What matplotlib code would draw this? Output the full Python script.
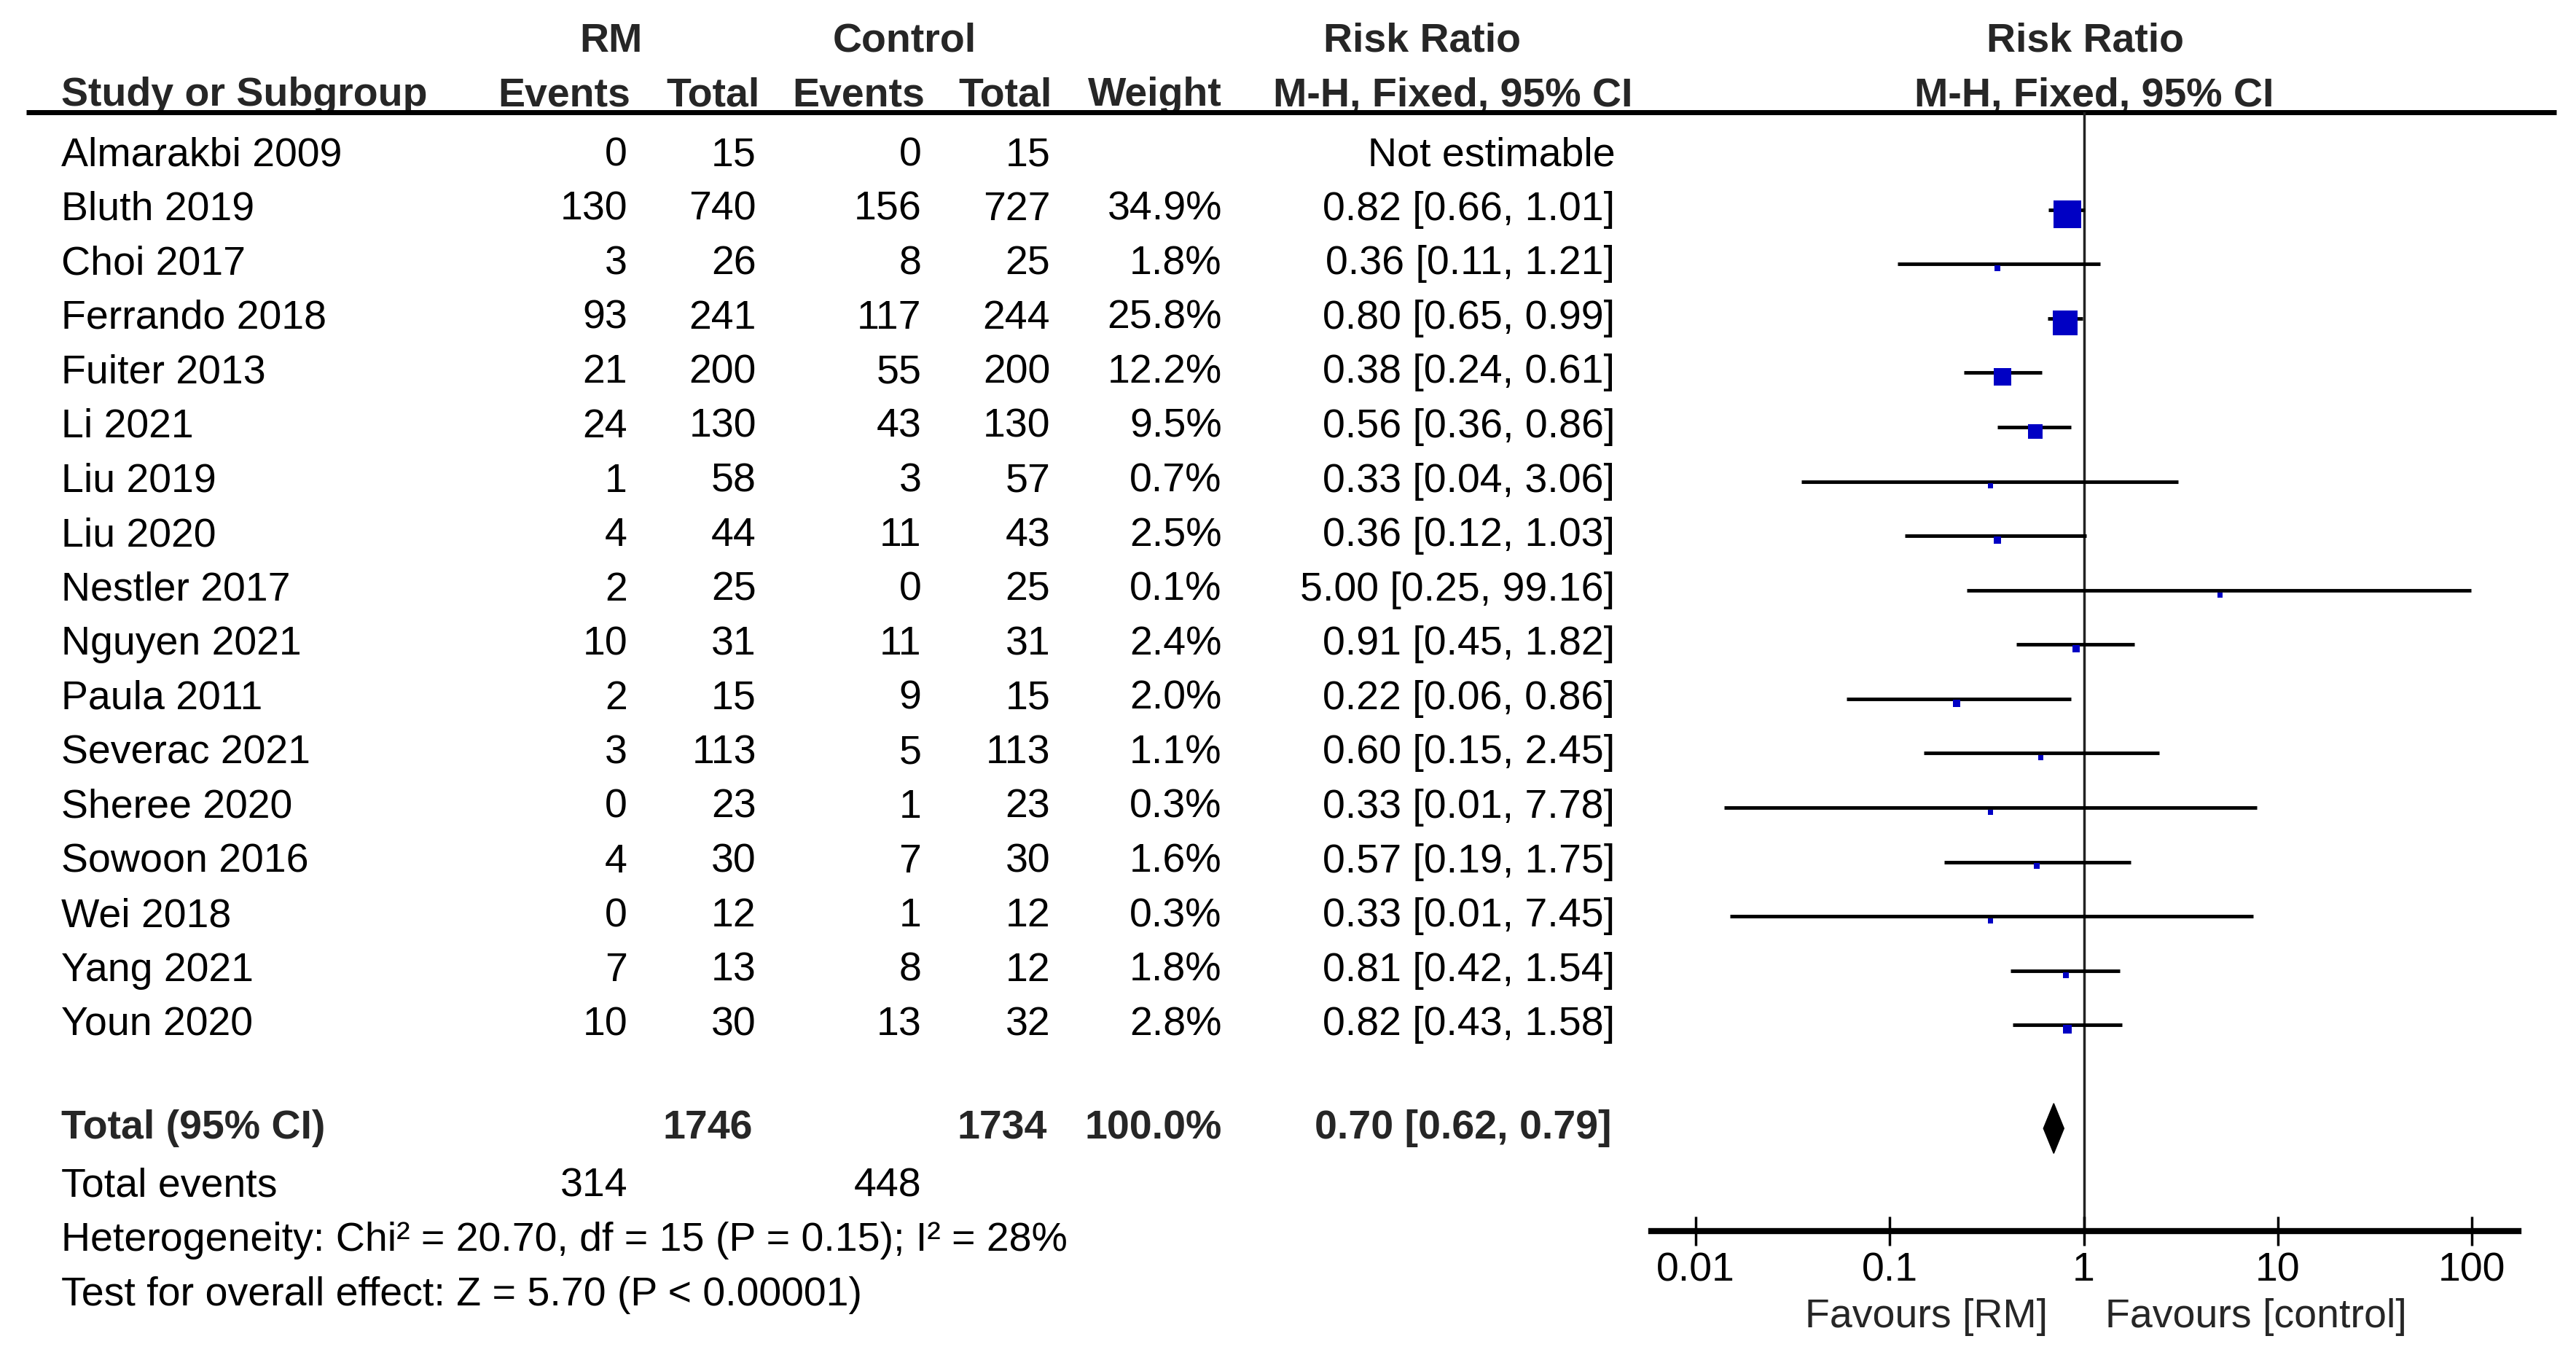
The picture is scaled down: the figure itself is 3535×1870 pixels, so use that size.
import matplotlib
matplotlib.use("Agg")
import matplotlib.pyplot as plt
from matplotlib.patches import Polygon
import numpy as np

plt.rcParams['font.family'] = ['Liberation Sans', 'DejaVu Sans']

# ---------------- data ----------------
studies = ["Almarakbi 2009", "Bluth 2019", "Choi 2017", "Ferrando 2018", "Fuiter 2013",
           "Li 2021", "Liu 2019", "Liu 2020", "Nestler 2017", "Nguyen 2021", "Paula 2011",
           "Severac 2021", "Sheree 2020", "Sowoon 2016", "Wei 2018", "Yang 2021", "Youn 2020"]
rm_events = [0, 130, 3, 93, 21, 24, 1, 4, 2, 10, 2, 3, 0, 4, 0, 7, 10]
rm_total = [15, 740, 26, 241, 200, 130, 58, 44, 25, 31, 15, 113, 23, 30, 12, 13, 30]
ctl_events = [0, 156, 8, 117, 55, 43, 3, 11, 0, 11, 9, 5, 1, 7, 1, 8, 13]
ctl_total = [15, 727, 25, 244, 200, 130, 57, 43, 25, 31, 15, 113, 23, 30, 12, 12, 32]
weights = [None, 34.9, 1.8, 25.8, 12.2, 9.5, 0.7, 2.5, 0.1, 2.4, 2.0, 1.1, 0.3, 1.6, 0.3, 1.8, 2.8]
ci_text = ["Not estimable", "0.82 [0.66, 1.01]", "0.36 [0.11, 1.21]", "0.80 [0.65, 0.99]",
           "0.38 [0.24, 0.61]", "0.56 [0.36, 0.86]", "0.33 [0.04, 3.06]", "0.36 [0.12, 1.03]",
           "5.00 [0.25, 99.16]", "0.91 [0.45, 1.82]", "0.22 [0.06, 0.86]", "0.60 [0.15, 2.45]",
           "0.33 [0.01, 7.78]", "0.57 [0.19, 1.75]", "0.33 [0.01, 7.45]", "0.81 [0.42, 1.54]",
           "0.82 [0.43, 1.58]"]
rr = [None, 0.82, 0.36, 0.80, 0.38, 0.56, 0.33, 0.36, 5.00, 0.91, 0.22, 0.60, 0.33, 0.57, 0.33, 0.81, 0.82]
rr_lo = [None, 0.66, 0.11, 0.65, 0.24, 0.36, 0.035, 0.12, 0.25, 0.45, 0.06, 0.15, 0.014, 0.19, 0.015, 0.42, 0.43]
rr_hi = [None, 1.01, 1.21, 0.99, 0.61, 0.86, 3.06, 1.03, 99.16, 1.82, 0.86, 2.45, 7.78, 1.75, 7.45, 1.54, 1.58]

total_rm = 1746
total_ctl = 1734
total_events_rm = 314
total_events_ctl = 448
total_rr, total_lo, total_hi = 0.70, 0.62, 0.79
total_text = "0.70 [0.62, 0.79]"
heterogeneity = "Heterogeneity: Chi\u00b2 = 20.70, df = 15 (P = 0.15); I\u00b2 = 28%"
overall = "Test for overall effect: Z = 5.70 (P < 0.00001)"
tick_vals = [0.01, 0.1, 1, 10, 100]
tick_labels = ["0.01", "0.1", "1", "10", "100"]

# ---------------- layout ----------------
W, H = 1560.0, 825.0
fig = plt.figure(figsize=(35.35, 18.7), dpi=100)
axt = fig.add_axes([0, 0, 1, 1])
axt.set_xlim(0, W)
axt.set_ylim(H, 0)
axt.axis('off')

FS = 40
HC = '#262626'
Y0, DY = 94.0, 32.9


def ry(r):
    return Y0 + DY * r


# headers
hdr = dict(fontsize=FS, fontweight='bold', color=HC, va='center')
axt.text(370, 25, "RM", ha='center', **hdr)
axt.text(548, 25, "Control", ha='center', **hdr)
axt.text(861, 25, "Risk Ratio", ha='center', **hdr)
axt.text(1263, 25, "Risk Ratio", ha='center', **hdr)
axt.text(37, 58, "Study or Subgroup", ha='left', **hdr)
axt.text(382, 58, "Events", ha='right', **hdr)
axt.text(460, 58, "Total", ha='right', **hdr)
axt.text(560, 58, "Events", ha='right', **hdr)
axt.text(637, 58, "Total", ha='right', **hdr)
axt.text(740, 58, "Weight", ha='right', **hdr)
axt.text(880, 58, "M-H, Fixed, 95% CI", ha='center', **hdr)
axt.text(1268, 58, "M-H, Fixed, 95% CI", ha='center', **hdr)
axt.plot([16, 1548], [68, 68], color='black', lw=5, solid_capstyle='butt', zorder=5)

body = dict(fontsize=FS, color='black', va='center')
for i, s in enumerate(studies):
    y = ry(i)
    axt.text(37, y, s, ha='left', **body)
    axt.text(380, y, str(rm_events[i]), ha='right', **body)
    axt.text(458, y, str(rm_total[i]), ha='right', **body)
    axt.text(558, y, str(ctl_events[i]), ha='right', **body)
    axt.text(636, y, str(ctl_total[i]), ha='right', **body)
    if weights[i] is not None:
        axt.text(740, y, f"{weights[i]:.1f}%", ha='right', **body)
    axt.text(978, y, ci_text[i], ha='right', **body)

bold = dict(fontsize=FS, color=HC, fontweight='bold', va='center')
yt = 683
axt.text(37, yt, "Total (95% CI)", ha='left', **bold)
axt.text(456, yt, str(total_rm), ha='right', **bold)
axt.text(634, yt, str(total_ctl), ha='right', **bold)
axt.text(740, yt, "100.0%", ha='right', **bold)
axt.text(976, yt, total_text, ha='right', **bold)

axt.text(37, 718, "Total events", ha='left', **body)
axt.text(380, 718, str(total_events_rm), ha='right', **body)
axt.text(558, 718, str(total_events_ctl), ha='right', **body)
axt.text(37, 751, heterogeneity, ha='left', **body)
axt.text(37, 784, overall, ha='left', **body)

axt.text(1240, 797, "Favours [RM]", ha='right', fontsize=FS, color=HC, va='center')
axt.text(1275, 797, "Favours [control]", ha='left', fontsize=FS, color=HC, va='center')

# ---------------- forest axes ----------------
x_left, x_right, y_top, y_bot = 1000.0, 1525.0, 68.0, 745.0
axf = fig.add_axes([x_left / W, 1 - y_bot / H, (x_right - x_left) / W, (y_bot - y_top) / H])
axf.patch.set_alpha(0)
axf.set_xscale('log')
axf.set_xlim(10 ** -2.23, 10 ** 2.24)
axf.set_ylim((y_bot - Y0) / DY, (y_top - Y0) / DY)
for sp in ['top', 'left', 'right']:
    axf.spines[sp].set_visible(False)
axf.spines['bottom'].set_linewidth(6)
axf.set_yticks([])
axf.set_xticks(tick_vals)
axf.set_xticklabels(tick_labels)
axf.minorticks_off()
axf.tick_params(axis='x', direction='inout', length=29, width=2.5, labelsize=FS, pad=6, colors='black')
axf.axvline(1, color='#222222', lw=2.5, zorder=1)

blue = '#0000C4'
for i in range(len(studies)):
    if rr[i] is None:
        continue
    axf.plot([rr_lo[i], rr_hi[i]], [i, i], color='black', lw=3.5, solid_capstyle='butt', zorder=2)
    side_px = max(6.6 * np.sqrt(weights[i]), 7.0)
    axf.plot([rr[i]], [i + 0.08], marker='s', ms=side_px * 0.72, color=blue, mew=0, zorder=3)

rt = (yt - Y0) / DY
h = 0.46
axf.add_patch(Polygon([(total_lo, rt), (total_rr, rt - h), (total_hi, rt), (total_rr, rt + h)],
                      closed=True, color='black', zorder=3))

fig.savefig("out.png", dpi=100)
